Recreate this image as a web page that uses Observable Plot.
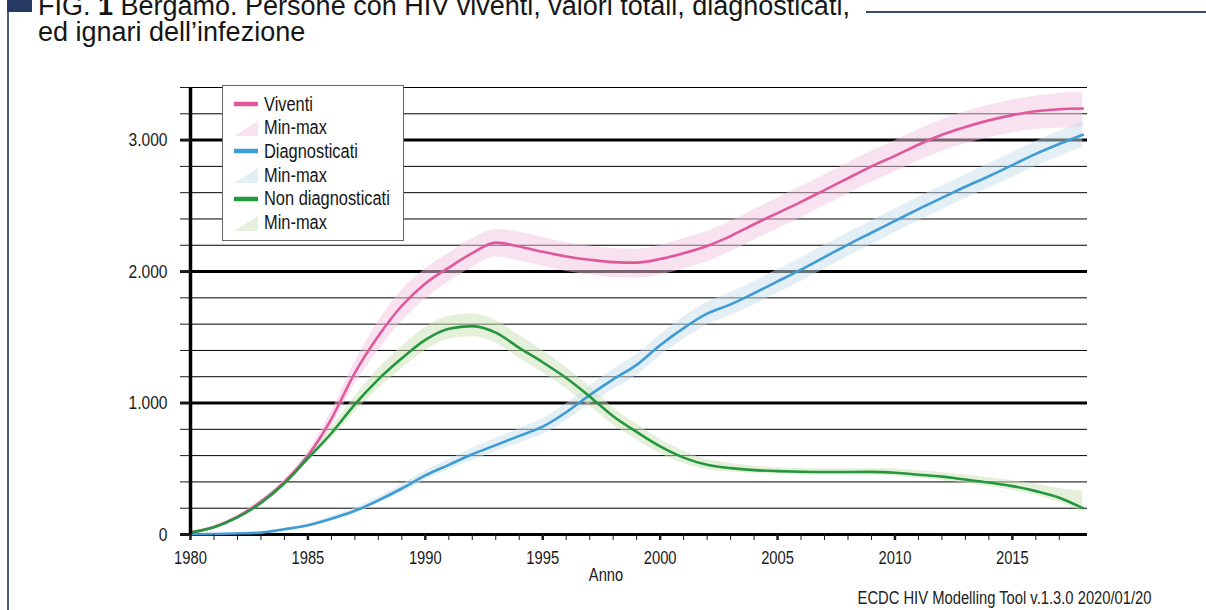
<!DOCTYPE html>
<html>
<head>
<meta charset="utf-8">
<script src="https://cdn.jsdelivr.net/npm/d3@7"></script>
<script src="https://cdn.jsdelivr.net/npm/@observablehq/plot@0.6"></script>
<style>
  body { margin: 0; background: #fff; width: 1206px; height: 610px; overflow: hidden; position: relative; }
  #chart { position: absolute; left: 0; top: 0; }
  .title { position: absolute; left: 38px; top: -7px; font-family: "Liberation Sans", Arial, sans-serif; font-size: 27px; line-height: 26px; color: #151515; white-space: nowrap; }
  .title div { height: 26px; }
  .sq { position: absolute; left: 7px; top: 0; width: 25px; height: 12px; background: #243a62; }
  .vline { position: absolute; left: 7px; top: 12px; width: 2px; height: 600px; background: #4f5f80; }
  .hrule { position: absolute; left: 866px; top: 11px; width: 340px; height: 2px; background: #3b4b6b; }
  .legend { position: absolute; left: 222px; top: 85px; width: 180px; height: 154px; border: 1.5px solid #666; background: #fff; font-family: "Liberation Sans", Arial, sans-serif; font-size: 20px; color: #151515; }
  .legend .row { position: absolute; left: 0; height: 24px; display: flex; align-items: center; white-space: nowrap; }
  .legend .row svg { margin-left: 11px; margin-right: 6px; flex: none; }
  .legend .row span { display: inline-block; transform: scaleX(0.82); transform-origin: left center; }
  .caption { position: absolute; right: 54px; top: 588px; font-family: "Liberation Sans", Arial, sans-serif; font-size: 18px; line-height: 20px; color: #222; white-space: nowrap; transform: scaleX(0.82); transform-origin: right center; }
</style>
</head>
<body>
<div id="chart"></div>
<div class="sq"></div>
<div class="vline"></div>
<div class="hrule"></div>
<div class="title"><div>FIG. <b>1</b> Bergamo. Persone con HIV viventi, valori totali, diagnosticati,</div><div>ed ignari dell’infezione</div></div>
<div class="legend" id="legend"></div>
<div class="caption">ECDC HIV Modelling Tool v.1.3.0 2020/01/20</div>
<script>
// ---- Data ----
const years = [1980,1981,1982,1983,1984,1985,1986,1987,1988,1989,1990,1991,1992,1993,1994,1995,1996,1997,1998,1999,2000,2001,2002,2003,2004,2005,2006,2007,2008,2009,2010,2011,2012,2013,2014,2015,2016,2017,2018];

const viventi    = [15,57,135,250,400,600,880,1230,1510,1740,1910,2030,2140,2220,2190,2150,2115,2090,2072,2068,2095,2140,2195,2270,2360,2445,2530,2620,2710,2800,2880,2965,3040,3100,3150,3190,3220,3235,3240];
const viventiMin = [10,50,125,235,380,570,820,1140,1400,1620,1790,1920,2030,2110,2080,2040,2000,1975,1955,1950,1975,2020,2075,2150,2240,2325,2410,2500,2590,2680,2760,2840,2915,2970,3015,3055,3080,3090,3095];
const viventiMax = [20,64,145,265,420,630,940,1310,1620,1860,2020,2140,2250,2320,2300,2260,2220,2195,2175,2170,2200,2250,2305,2380,2470,2560,2645,2735,2825,2915,2995,3080,3155,3215,3265,3305,3335,3355,3365];

const diagnosticati    = [2,4,8,14,40,70,120,180,260,350,450,530,610,680,750,820,930,1060,1180,1290,1440,1570,1680,1750,1835,1925,2015,2110,2205,2295,2385,2475,2560,2645,2725,2810,2895,2970,3040];
const diagnosticatiMin = [0,2,5,10,32,58,102,158,235,320,415,490,565,630,695,760,865,990,1105,1210,1360,1485,1595,1665,1745,1835,1925,2020,2115,2205,2295,2385,2470,2555,2635,2715,2800,2875,2945];
const diagnosticatiMax = [4,6,11,18,48,82,138,202,285,380,485,570,655,730,805,880,995,1130,1255,1370,1520,1655,1765,1840,1925,2015,2105,2200,2295,2385,2475,2565,2650,2735,2820,2905,2990,3070,3140];

const nonDiagnosticati    = [15,55,130,240,390,580,770,990,1180,1340,1480,1565,1585,1535,1420,1310,1190,1050,900,780,670,585,530,505,490,482,477,475,475,476,470,455,440,418,395,368,330,280,200];
const nonDiagnosticatiMin = [10,48,120,225,370,555,730,930,1110,1260,1400,1485,1505,1455,1340,1230,1110,975,835,720,615,540,495,475,465,460,455,452,452,452,445,430,412,390,365,337,298,245,175];
const nonDiagnosticatiMax = [20,62,140,255,410,610,815,1050,1260,1430,1575,1660,1680,1630,1515,1400,1270,1125,965,840,725,635,570,540,520,508,502,500,500,502,498,485,472,452,432,410,385,350,330];

const seriesNames = ["Viventi", "Diagnosticati", "Non diagnosticati"];
const bandName = "Min-max";
const lineColors = ["#e0579b", "#3d9bd6", "#22973c"];
const bandColors = ["#f4c6e0", "#c8e0e9", "#cce2b8"];

const yMajorTicks = [0, 1000, 2000, 3000];
const yMajorLabels = ["0", "1.000", "2.000", "3.000"];
const yMinorTicks = [200,400,600,800,1200,1400,1600,1800,2200,2400,2600,2800,3200,3400];
const xMajorTicks = [1980,1985,1990,1995,2000,2005,2010,2015];
const xMajorLabels = ["1980","1985","1990","1995","2000","2005","2010","2015"];
const xMinorTicks = [1981,1982,1983,1984,1986,1987,1988,1989,1991,1992,1993,1994,1996,1997,1998,1999,2001,2002,2003,2004,2006,2007,2008,2009,2011,2012,2013,2014,2016,2017];
const xLabel = "Anno";

// ---- Table built from the arrays ----
const rows = years.map((year, i) => ({
  year,
  v: viventi[i], vMin: viventiMin[i], vMax: viventiMax[i],
  d: diagnosticati[i], dMin: diagnosticatiMin[i], dMax: diagnosticatiMax[i],
  n: nonDiagnosticati[i], nMin: nonDiagnosticatiMin[i], nMax: nonDiagnosticatiMax[i]
}));

const curve = "monotone-x";

const chart = Plot.plot({
  width: 1206,
  height: 610,
  marginLeft: 190,
  marginRight: 119,
  marginTop: 87,
  marginBottom: 76,
  style: { fontFamily: "'Liberation Sans', Arial, sans-serif", fontSize: "18px", color: "#1a1a1a", background: "transparent", overflow: "visible" },
  x: { domain: [1980, 2018.2], label: null },
  y: { domain: [0, 3400], label: null },
  marks: [
    Plot.gridY(yMinorTicks, { stroke: "#000", strokeOpacity: 1, strokeWidth: 1 }),
    Plot.gridY(yMajorTicks, { stroke: "#000", strokeOpacity: 1, strokeWidth: 3 }),
    Plot.areaY(rows, { x: "year", y1: "vMin", y2: "vMax", fill: bandColors[0], fillOpacity: 0.5, curve }),
    Plot.areaY(rows, { x: "year", y1: "dMin", y2: "dMax", fill: bandColors[1], fillOpacity: 0.5, curve }),
    Plot.areaY(rows, { x: "year", y1: "nMin", y2: "nMax", fill: bandColors[2], fillOpacity: 0.5, curve }),
    Plot.lineY(rows, { x: "year", y: "v", stroke: lineColors[0], strokeWidth: 2.6, curve }),
    Plot.lineY(rows, { x: "year", y: "d", stroke: lineColors[1], strokeWidth: 2.6, curve }),
    Plot.lineY(rows, { x: "year", y: "n", stroke: lineColors[2], strokeWidth: 2.6, curve }),
    Plot.ruleX([1980], { stroke: "#000", strokeWidth: 3.5 }),
    Plot.axisY(yMinorTicks, { tickSize: 10, tickFormat: () => "", label: null, strokeWidth: 1 }),
    Plot.axisY(yMajorTicks, { tickSize: 10, tickPadding: 13, strokeWidth: 3, fontSize: 19, label: null,
      tickFormat: (d) => yMajorLabels[yMajorTicks.indexOf(d)] }),
    Plot.axisX(xMinorTicks, { tickSize: 6, tickFormat: () => "", label: null, strokeWidth: 1 }),
    Plot.axisX(xMajorTicks, { tickSize: 6, tickPadding: 11, strokeWidth: 2.5, fontSize: 18, label: null,
      tickFormat: (d) => xMajorLabels[xMajorTicks.indexOf(d)] }),
    Plot.text([xLabel], { frameAnchor: "bottom", dx: -33, dy: 46, fontSize: 18, fill: "#1a1a1a" })
  ]
});
document.getElementById("chart").appendChild(chart);

// Condensed look: squeeze the chart's texts horizontally around their anchors
d3.select(chart).selectAll("text").each(function () {
  const t = this.getAttribute("transform") || "";
  this.setAttribute("transform", (t + " scale(0.82,1)").trim());
});

// ---- Legend ----
const legend = document.getElementById("legend");
const entries = [];
seriesNames.forEach((name, i) => {
  entries.push({ label: name, kind: "line", color: lineColors[i] });
  entries.push({ label: bandName, kind: "band", color: bandColors[i] });
});
entries.forEach((e, k) => {
  const row = document.createElement("div");
  row.className = "row";
  row.style.top = (6 + k * 23.7) + "px";
  const sw = e.kind === "line"
    ? `<svg width="24" height="16"><line x1="0" x2="24" y1="8" y2="8" stroke="${e.color}" stroke-width="4.5"/></svg>`
    : `<svg width="24" height="16"><polygon points="0,16 24,16 24,1" fill="${e.color}" fill-opacity="0.5"/></svg>`;
  row.innerHTML = sw + `<span>${e.label}</span>`;
  legend.appendChild(row);
});
</script>
</body>
</html>
